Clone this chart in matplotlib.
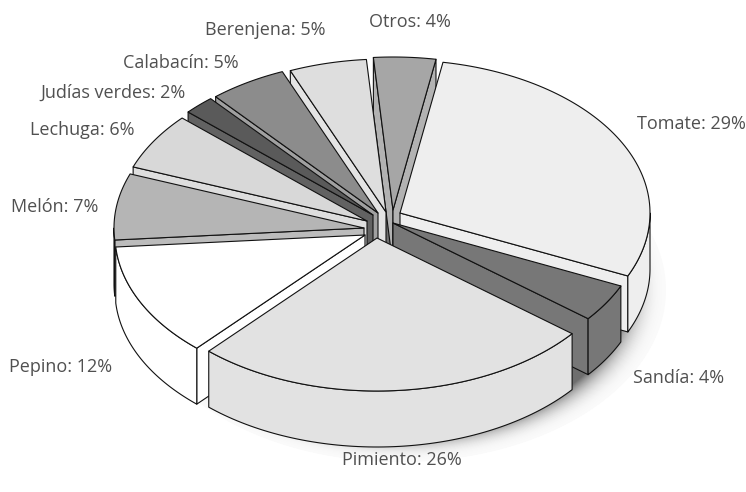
import matplotlib
matplotlib.use('Agg')
import matplotlib.pyplot as plt
import numpy as np
from matplotlib.patches import Ellipse, Polygon

# Crop shares, clockwise from the first slice
categories = ['Tomate', 'Sandía', 'Pimiento', 'Pepino', 'Melón', 'Lechuga',
              'Judías verdes', 'Calabacín', 'Berenjena', 'Otros']
shares = [29, 4, 26, 12, 7, 6, 2, 5, 5, 4]

top_colors = ['#eeeeee', '#777777', '#e2e2e2', '#ffffff', '#b5b5b5',
              '#d8d8d8', '#5a5a5a', '#8c8c8c', '#dedede', '#a6a6a6']
wall_colors = ['#eeeeee', '#777777', '#e2e2e2', '#ffffff', '#bcbcbc',
               '#dedede', '#626262', '#a0a0a0', '#e4e4e4', '#b2b2b2']

# How far each slice is pulled out of the pie centre (pixels)
pull = [(18, -11), (11, -1), (-5, 14), (-17, 11), (-18, 4),
        (-15, -3), (-9, -9), (-4, -11), (4, -12), (11, -14)]

label_pos = [(691, 124), (679, 378), (402, 460), (61, 367), (55, 207),
             (82, 130), (113, 93), (181, 63), (265, 30), (410, 22)]

# back slices go first so the front ones paint over them
draw_order = [9, 8, 7, 6, 5, 4, 0, 1, 3, 2]

center_x, center_y = 382, 224
radius_x, radius_y = 250, 153
depth = 56
start_angle = 9.9

fig = plt.figure(figsize=(7.46, 4.92), dpi=100)
ax = fig.add_axes([0, 0, 1, 1])
ax.set_xlim(0, 746)
ax.set_ylim(492, 0)
ax.axis('off')


def rim(apex, angles):
    t = np.radians(angles)
    return np.column_stack([apex[0] + radius_x * np.sin(t),
                            apex[1] - radius_y * np.cos(t)])


def add_poly(points, color, z):
    ax.add_patch(Polygon(points, closed=True, facecolor=color, edgecolor='#111111',
                         linewidth=0.8, joinstyle='round', zorder=z))


# soft drop shadow under the pie
n_rings = 50
for i in range(n_rings):
    f = i / (n_rings - 1)
    scale = 1 - 0.15 * f
    grey = 0.98 - 0.55 * f ** 2.5
    ax.add_patch(Ellipse((400, 290), 2 * 266 * scale, 2 * 172 * scale,
                         facecolor=(grey, grey, grey), edgecolor='none', zorder=1))

edges = start_angle + np.cumsum([0] + shares) * 3.6

z = 2
for i in draw_order:
    apex = np.array([center_x + pull[i][0], center_y + pull[i][1]], dtype=float)
    a0, a1 = edges[i], edges[i + 1]
    arc = rim(apex, np.linspace(a0, a1, 80))
    drop = np.array([0, depth])

    # cut faces, only the ones turned towards the viewer
    if np.sin(np.radians(a0)) < 0:
        add_poly([apex, arc[0], arc[0] + drop, apex + drop], wall_colors[i], z)
    if np.sin(np.radians(a1)) > 0:
        add_poly([apex, arc[-1], arc[-1] + drop, apex + drop], wall_colors[i], z)

    # outer wall, front half of the rim only
    lo, hi = max(a0, 90), min(a1, 270)
    if lo < hi:
        front = rim(apex, np.linspace(lo, hi, 80))
        add_poly(np.vstack([front, (front + drop)[::-1]]), wall_colors[i], z)

    # top face
    add_poly(np.vstack([apex, arc]), top_colors[i], z)
    z += 1

for name, share, (x, y) in zip(categories, shares, label_pos):
    ax.text(x, y, f'{name}: {share}%', ha='center', va='center', fontsize=13,
            family='Open Sans', color='#505050', zorder=50)

fig.savefig('out.png', dpi=100)
